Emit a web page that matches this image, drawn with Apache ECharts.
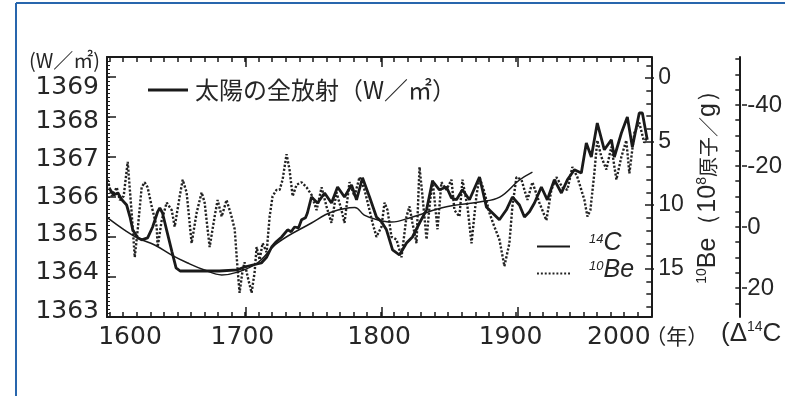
<!DOCTYPE html>
<html>
<head>
<meta charset="utf-8">
<script src="https://cdn.jsdelivr.net/npm/echarts@6/dist/echarts.min.js"></script>
<style>
  html, body { margin: 0; padding: 0; background: #fff; }
  #main { width: 785px; height: 396px; }
</style>
</head>
<body>
<div id="main"></div>
<script>
// total solar irradiance (W/m2), thick line
const tsiYears = [1600, 1603, 1606, 1609, 1612.5, 1615, 1617, 1620.7, 1623.6, 1628, 1631.7, 1635.4, 1637, 1639, 1642, 1646, 1649, 1652, 1666, 1681, 1694.5, 1699.6, 1705.5, 1712, 1716, 1719.6, 1723, 1727, 1731.4, 1734, 1736.5, 1739.5, 1741.7, 1744.6, 1746, 1749, 1753.5, 1758.7, 1763.8, 1768.3, 1773.4, 1778.6, 1782.3, 1786.7, 1791.9, 1797, 1800.7, 1804.4, 1808.9, 1814, 1819.2, 1823.6, 1828.8, 1834, 1838.4, 1843.5, 1848.7, 1852.4, 1856.1, 1860.5, 1865.7, 1873.1, 1878.2, 1882.7, 1887.8, 1893, 1897.4, 1902.6, 1906.3, 1910, 1913.7, 1918.8, 1923.2, 1928.4, 1933.6, 1938, 1943.2, 1948.3, 1952, 1955.7, 1960.1, 1965.3, 1970.5, 1972.7, 1977.9, 1982.3, 1986, 1991.1, 1993.4, 1997];
const tsiValues = [1366.2, 1366.05, 1366.1, 1365.93, 1365.8, 1365.5, 1365.18, 1364.98, 1364.93, 1364.98, 1365.25, 1365.63, 1365.73, 1365.6, 1365.18, 1364.63, 1364.23, 1364.15, 1364.15, 1364.15, 1364.18, 1364.25, 1364.3, 1364.35, 1364.5, 1364.75, 1364.88, 1365.0, 1365.18, 1365.13, 1365.25, 1365.23, 1365.43, 1365.48, 1365.6, 1366.0, 1365.85, 1366.1, 1365.85, 1366.25, 1366.0, 1366.3, 1365.93, 1366.48, 1366.0, 1365.5, 1365.38, 1365.18, 1364.68, 1364.55, 1364.85, 1365.0, 1365.35, 1365.68, 1366.4, 1366.18, 1366.25, 1365.98, 1365.93, 1366.18, 1365.93, 1366.5, 1365.75, 1365.6, 1365.43, 1365.68, 1366.0, 1365.8, 1365.5, 1365.63, 1365.85, 1366.25, 1365.93, 1366.43, 1366.1, 1366.43, 1366.68, 1366.6, 1367.35, 1367.0, 1367.85, 1367.18, 1367.43, 1367.0, 1367.6, 1368.0, 1367.25, 1368.1, 1368.1, 1367.43];

// delta 14C (permil), thin smooth line
const c14Years = [1598.5, 1611, 1620.7, 1633.2, 1645.8, 1657.6, 1670, 1682.7, 1694.5, 1709, 1724, 1749, 1764, 1781, 1788, 1798, 1808, 1823.6, 1848.7, 1873, 1888, 1902.6, 1912.2];
const c14Values = [-3.0, 1.0, 3.6, 5.9, 9.2, 11.8, 14.1, 15.7, 14.8, 11.8, 5.2, -1.3, -4.9, -6.4, -3.9, -2.3, -1.6, -3.3, -6.6, -8.2, -9.8, -15.4, -18.0];

// 10Be (10^8 atoms/g), dotted line
const be10Years = [1598.5, 1601.5, 1605.2, 1607.4, 1610.3, 1613.3, 1616.2, 1618.5, 1620.7, 1623.6, 1625.8, 1628, 1631, 1634.7, 1635.4, 1638.4, 1642.1, 1645.8, 1648, 1651.7, 1653.9, 1656.8, 1660.5, 1664.2, 1667.9, 1670.1, 1673.8, 1677.5, 1679.7, 1682.7, 1686.3, 1690, 1692.3, 1694.5, 1695.9, 1698.2, 1699.6, 1701.8, 1704.8, 1707, 1708.5, 1710.7, 1712.9, 1715.9, 1718.1, 1720.3, 1723.2, 1725.5, 1727.7, 1730.6, 1732.8, 1735.1, 1738, 1741.7, 1745.4, 1749.1, 1752.8, 1756.5, 1760.1, 1763.8, 1767.5, 1771.2, 1773.4, 1777.1, 1780.8, 1784.5, 1788.2, 1791.9, 1794.1, 1797, 1800.7, 1803, 1805.2, 1808.1, 1811.8, 1815.5, 1819.2, 1821.4, 1823.6, 1826.6, 1828.8, 1831, 1834, 1836.2, 1838.4, 1842.1, 1845, 1848.7, 1852.4, 1854.6, 1858.3, 1860.5, 1864.2, 1867.2, 1870.8, 1873.1, 1876.8, 1880.4, 1884.1, 1887.8, 1891.5, 1895.2, 1897.4, 1900.4, 1904.1, 1908.5, 1912.2, 1917.3, 1922.5, 1926.2, 1929.9, 1934.3, 1938, 1941.7, 1945.4, 1948.3, 1950.6, 1952.8, 1955, 1957.9, 1960.1, 1963.1, 1966.8, 1970.5, 1974.2, 1977.9, 1981.5, 1983.8, 1987.5, 1991.1, 1994.8, 1997];
const be10Values = [8.0, 9.3, 8.6, 9.6, 9.3, 6.6, 10.6, 14.1, 11.9, 8.6, 8.2, 8.6, 10.1, 11.7, 13.3, 11.2, 9.8, 10.4, 11.7, 9.3, 8.0, 9.0, 13.0, 10.6, 9.0, 9.8, 13.3, 10.9, 9.6, 10.9, 9.6, 10.9, 11.9, 15.1, 16.9, 15.1, 14.5, 15.6, 16.9, 15.3, 13.3, 14.3, 13.0, 13.7, 10.9, 9.3, 8.8, 8.8, 8.0, 6.0, 7.2, 9.3, 8.4, 8.2, 8.6, 9.2, 10.4, 8.6, 10.1, 11.4, 9.0, 10.4, 11.4, 8.2, 9.3, 7.8, 8.8, 10.4, 11.4, 12.5, 11.7, 9.8, 10.4, 12.5, 12.7, 14.1, 10.9, 10.1, 11.4, 13.0, 7.0, 9.3, 12.7, 10.1, 8.0, 11.9, 8.2, 8.8, 8.0, 10.4, 10.9, 8.0, 10.1, 13.0, 9.3, 7.8, 9.0, 10.6, 11.7, 12.7, 14.8, 13.0, 10.1, 7.8, 8.0, 9.6, 8.2, 9.8, 11.2, 8.8, 7.8, 8.6, 8.8, 7.0, 7.8, 8.8, 9.6, 10.9, 10.4, 7.5, 4.9, 6.2, 7.2, 5.4, 8.0, 6.2, 4.9, 7.5, 4.3, 3.5, 5.1, 4.6];

// tick labels
const yearLabels = [1600, 1700, 1800, 1900, 2000];
const tsiLabels = [1363, 1364, 1365, 1366, 1367, 1368, 1369];
const be10Labels = [0, 5, 10, 15];
const c14Labels = [-40, -20, 0, 20];

const ink = '#1a1a1a';
const txt = '#262626';

function ticks(a, b, step) {
  const out = [];
  for (let v = a; v <= b + 1e-9; v += step) out.push(Math.round(v * 100) / 100);
  return out;
}
function pairs(xs, ys) {
  return xs.map((x, i) => [x, ys[i]]);
}

const chart = echarts.init(document.getElementById('main'));

const gridBox = { left: 107, right: 131, top: 57, bottom: 79 };
const line = { onZero: false, lineStyle: { color: ink, width: 2 } };
const noLine = { show: false, onZero: false };
const tickStyle = { color: ink, width: 1.5 };
const noLabel = { show: false };

const xBase = { type: 'value', min: 1598, max: 2000, splitLine: { show: false } };

// dotted sample for the 10Be legend entry
const dotsIcon = 'path://M0,0h2v2h-2z M4,0h2v2h-2z M8,0h2v2h-2z M12,0h2v2h-2z M16,0h2v2h-2z M20,0h2v2h-2z M24,0h2v2h-2z M28,0h2v2h-2z M32,0h2v2h-2z';

const option = {
  animation: false,
  backgroundColor: '#fff',
  grid: [
    Object.assign({}, gridBox),
    Object.assign({}, gridBox)
  ],
  legend: [
    {
      data: [{ name: '太陽の全放射（W／㎡）', icon: 'rect' }],
      left: 143,
      top: 73,
      itemWidth: 40,
      itemHeight: 3,
      textStyle: { fontSize: 24, color: txt, fontFamily: 'Noto Sans CJK JP', padding: [0, 0, 0, 2] },
      selectedMode: false
    },
    {
      data: [{ name: '14C', icon: 'rect' }, { name: '10Be', icon: dotsIcon }],
      orient: 'vertical',
      left: 532,
      top: 226,
      itemGap: 2,
      itemWidth: 33,
      itemHeight: 2,
      selectedMode: false,
      formatter: name => name === '14C' ? '{s|14}{b|C}' : '{s|10}{b|Be}',
      textStyle: {
        padding: [0, 0, 6, 14],
        rich: {
          s: { fontSize: 13, fontStyle: 'italic', fontFamily: 'Liberation Sans', color: txt, verticalAlign: 'top', lineHeight: 22 },
          b: { fontSize: 25, fontStyle: 'italic', fontFamily: 'Liberation Sans', color: txt, lineHeight: 22 }
        }
      }
    }
  ],
  xAxis: [
    Object.assign({}, xBase, {
      gridIndex: 0,
      position: 'bottom',
      axisLine: line,
      axisTick: { inside: true, length: 5, customValues: ticks(1600, 2000, 10), lineStyle: tickStyle },
      axisLabel: {
        // label positions follow the printed figure, text is the century
        customValues: [1615, 1698, 1799, 1896, 1976],
        formatter: v => String(yearLabels.find(y => Math.abs(y - v) < 50)),
        margin: 8, fontSize: 25, fontFamily: 'DejaVu Sans', color: txt
      },
      name: '（年）',
      nameLocation: 'end',
      nameGap: -6,
      nameMoveOverlap: false,
      nameTextStyle: { fontSize: 21, fontFamily: 'Noto Sans CJK JP', color: txt, verticalAlign: 'top', align: 'left', padding: [9, 0, 0, 0] }
    }),
    Object.assign({}, xBase, {
      gridIndex: 0,
      position: 'top',
      axisLine: line,
      axisTick: { inside: true, length: 5, customValues: ticks(1600, 2000, 10), lineStyle: tickStyle },
      axisLabel: noLabel
    }),
    Object.assign({}, xBase, {
      gridIndex: 1,
      position: 'bottom',
      axisLine: noLine,
      axisTick: { inside: true, length: 10, customValues: [1700, 1800, 1900], lineStyle: tickStyle },
      axisLabel: noLabel
    }),
    Object.assign({}, xBase, {
      gridIndex: 1,
      position: 'top',
      axisLine: noLine,
      axisTick: { inside: true, length: 10, customValues: [1700, 1800, 1900], lineStyle: tickStyle },
      axisLabel: noLabel
    })
  ],
  yAxis: [
    {
      type: 'value', gridIndex: 0, position: 'left', min: 1363, max: 1369.5,
      splitLine: { show: false },
      axisLine: line,
      axisTick: { inside: true, length: 3, customValues: ticks(1363, 1369.5, 0.1), lineStyle: { color: ink, width: 1 } },
      axisLabel: {
        customValues: [1363.15, 1364.12, 1365.07, 1366.0, 1366.93, 1367.9, 1368.75],
        formatter: v => String(tsiLabels.find(t => Math.abs(t - v) < 0.5)),
        margin: 8, fontSize: 25, fontFamily: 'DejaVu Sans', color: txt
      }
    },
    {
      type: 'value', gridIndex: 0, position: 'right', min: -1.65, max: 18.8, inverse: true,
      splitLine: { show: false },
      axisLine: line,
      axisTick: { inside: true, length: 5, customValues: ticks(-1, 18, 1), lineStyle: tickStyle },
      axisLabel: {
        customValues: be10Labels,
        margin: 7, fontSize: 23, fontFamily: 'Liberation Sans', color: txt
      },
      name: '{s|10}{b|Be}{b|（10}{s|8}{c|原子／}{b|g）}',
      nameLocation: 'middle',
      nameRotate: 90,
      nameGap: 44,
      nameTextStyle: {
        padding: [0, 0, 0, 12],
        rich: {
          s: { fontSize: 14, fontFamily: 'Liberation Sans', color: txt, verticalAlign: 'top', lineHeight: 26 },
          b: { fontSize: 25, fontFamily: 'Liberation Sans', color: txt, lineHeight: 26 },
          c: { fontSize: 20, fontFamily: 'Noto Sans CJK JP', color: txt, lineHeight: 26 }
        }
      }
    },
    {
      type: 'value', gridIndex: 0, position: 'right', offset: 88, min: -55.7, max: 29.5, inverse: true,
      splitLine: { show: false },
      axisLine: line,
      axisTick: { inside: true, length: 4, customValues: ticks(-55, 25, 5), lineStyle: tickStyle },
      axisLabel: {
        customValues: c14Labels,
        margin: 8, fontSize: 24, fontFamily: 'Liberation Sans', color: txt
      }
    },
    {
      type: 'value', gridIndex: 1, position: 'left', min: 1363, max: 1369.5,
      splitLine: { show: false },
      axisLine: noLine,
      axisTick: { inside: true, length: 9, customValues: tsiLabels, lineStyle: tickStyle },
      axisLabel: noLabel
    },
    {
      type: 'value', gridIndex: 1, position: 'right', min: -1.65, max: 18.8, inverse: true,
      splitLine: { show: false },
      axisLine: noLine,
      axisTick: { inside: true, length: 9, customValues: be10Labels, lineStyle: tickStyle },
      axisLabel: noLabel
    },
    {
      type: 'value', gridIndex: 1, position: 'right', offset: 88, min: -55.7, max: 29.5, inverse: true,
      splitLine: { show: false },
      axisLine: noLine,
      axisTick: { inside: false, length: 5, customValues: c14Labels, lineStyle: tickStyle },
      axisLabel: noLabel
    }
  ],
  graphic: [
    { type: 'line', shape: { x1: 16, y1: 3, x2: 16, y2: 396 }, style: { stroke: '#2866ad', lineWidth: 2 } },
    { type: 'line', shape: { x1: 16, y1: 3, x2: 785, y2: 3 }, style: { stroke: '#2866ad', lineWidth: 2 } },
    {
      type: 'text', x: 100, y: 60,
      style: { text: '(W／㎡)', font: '20px "Noto Sans CJK JP"', fill: txt, align: 'right', verticalAlign: 'middle', textAlign: 'right', textVerticalAlign: 'middle' }
    },
    {
      type: 'text', x: 721, y: 320,
      style: {
        text: '{a|(Δ}{s|14}{a|C}',
        fill: txt,
        rich: {
          a: { fontSize: 26, fontFamily: 'Liberation Sans', fill: txt, lineHeight: 28 },
          s: { fontSize: 14, fontFamily: 'Liberation Sans', fill: txt, verticalAlign: 'top', lineHeight: 28 }
        }
      }
    }
  ],
  series: [
    {
      name: '太陽の全放射（W／㎡）',
      type: 'line',
      xAxisIndex: 0, yAxisIndex: 0,
      showSymbol: false, symbol: 'none',
      lineStyle: { color: ink, width: 2.8 },
      itemStyle: { color: ink },
      data: pairs(tsiYears, tsiValues),
      z: 4
    },
    {
      name: '14C',
      type: 'line',
      xAxisIndex: 0, yAxisIndex: 2,
      showSymbol: false, symbol: 'none',
      smooth: 0.4,
      lineStyle: { color: ink, width: 1.5 },
      itemStyle: { color: ink },
      data: pairs(c14Years, c14Values),
      z: 3
    },
    {
      name: '10Be',
      type: 'line',
      xAxisIndex: 0, yAxisIndex: 1,
      showSymbol: false, symbol: 'none',
      lineStyle: { color: '#222', width: 2.4, type: [2.2, 1.8] },
      itemStyle: { color: '#222' },
      data: pairs(be10Years, be10Values),
      z: 2
    }
  ]
};

chart.setOption(option);
</script>
</body>
</html>
